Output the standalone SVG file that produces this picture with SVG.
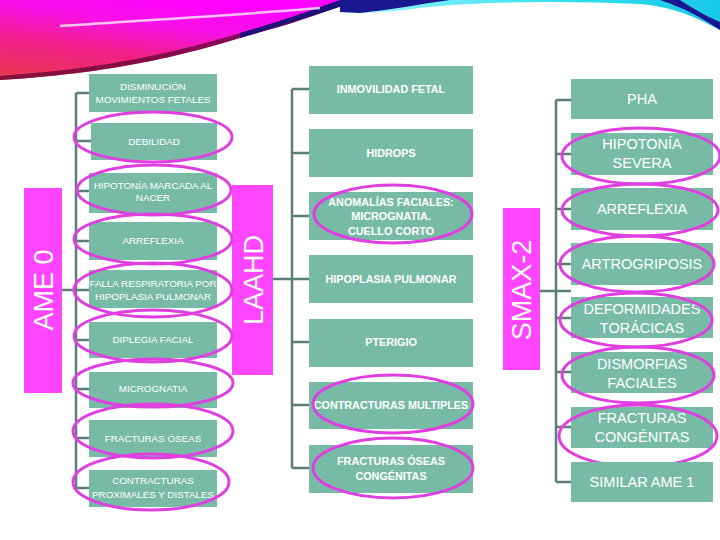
<svg xmlns="http://www.w3.org/2000/svg" width="720" height="540" viewBox="0 0 720 540">
<defs>
<linearGradient id="gL" x1="0" y1="1" x2="0.6" y2="0">
<stop offset="0" stop-color="#E8384A"/>
<stop offset="0.4" stop-color="#F0208A"/>
<stop offset="0.7" stop-color="#F810E8"/>
<stop offset="1" stop-color="#FF00FF"/>
</linearGradient>
<linearGradient id="gR" x1="0" y1="0" x2="1" y2="0">
<stop offset="0" stop-color="#9FF6FF"/>
<stop offset="0.6" stop-color="#30E0F0"/>
<stop offset="1" stop-color="#18C8E8"/>
</linearGradient>
<style>
.box{fill:#77BBA6}
.tag{fill:#FF45FF}
.ring{fill:none;stroke:#E03FE0;stroke-width:3}
.con{stroke:#5B7E79;stroke-width:2.5;fill:none}
.t1{font-family:"Liberation Sans",Arial,sans-serif;font-size:9.8px;fill:#fff;text-anchor:middle}
.t2{font-family:"Liberation Sans",Arial,sans-serif;font-size:10.8px;font-weight:bold;fill:#fff;text-anchor:middle}
.t3{font-family:"Liberation Sans",Arial,sans-serif;font-size:14.5px;fill:#fff;text-anchor:middle}
.tv{font-family:"Liberation Sans",Arial,sans-serif;font-size:27px;fill:#fff;text-anchor:middle}
</style>
</defs>
<rect width="720" height="540" fill="#fff"/>
<g id="decor">
<path d="M0,0 L362,0 C330,8 300,22 260,32 C200,50 130,72 0,80 Z" fill="url(#gL)"/>
<path d="M355,0 C330,10 300,22 260,32 C200,50 130,72 0,80 L0,76 C130,67 200,45 258,28 C295,16 325,6 345,0 Z" fill="#6A0838" opacity="0.8"/>
<path d="M240,38 C295,22 335,8 362,0 L340,0 C315,9 285,20 240,33 Z" fill="#20107A"/>
<path d="M60,26 C150,20 250,14 320,8" stroke="#fff" stroke-width="2.5" fill="none" opacity="0.75"/>
<path d="M340,0 L720,0 L720,30 C700,20 680,8 640,4 C560,0 470,2 420,8 C390,12 360,14 340,12 Z" fill="url(#gR)"/>
<path d="M340,0 L450,0 C420,4 390,10 360,13 L340,12 Z" fill="#1A1890"/>
<path d="M660,0 L680,0 C695,10 710,18 720,22 L720,30 C705,20 685,8 660,0 Z" fill="#1A1890"/>
</g>
<g id="connectors">
<path class="con" d="M76,93 V488 M76,93 H89 M76,141 H91 M76,191 H89 M76,241 H89 M62,290 H89 M76,340 H89 M76,389 H89 M76,438 H89 M76,488 H89"/>
<path class="con" d="M292,89 V468 M292,89 H309 M292,153 H309 M292,216 H309 M273,279 H309 M292,342 H309 M292,405 H309 M292,468 H309"/>
<path class="con" d="M556,100 V482 M556,100 H571 M556,154 H571 M556,209 H571 M556,264 H571 M540,291 H571 M556,318 H571 M556,372 H571 M556,427 H571 M556,482 H571"/>
</g>
<g id="ame0"><rect class="tag" x="24" y="188" width="38" height="205"/><text class="tv" transform="translate(53,290) rotate(-90)">AME 0</text></g>
<g id="laahd"><rect class="tag" x="232" y="185" width="41" height="190"/><text class="tv" transform="translate(263,280) rotate(-90)">LAAHD</text></g>
<g id="smax2"><rect class="tag" x="503" y="208" width="37" height="162"/><text class="tv" transform="translate(531,290) rotate(-90)">SMAX-2</text></g>

<g id="l1"><rect class="box" x="89" y="74" width="128" height="38"/><text class="t1" x="153" y="90">DISMINUCIÓN</text><text class="t1" x="153" y="103">MOVIMIENTOS FETALES</text></g>
<g id="l2"><rect class="box" x="91" y="123" width="126" height="37"/><text class="t1" x="154" y="145">DEBILIDAD</text><ellipse class="ring" cx="153" cy="137" rx="79" ry="25"/></g>
<g id="l3"><rect class="box" x="89" y="173" width="128" height="40"/><text class="t1" x="153" y="189">HIPOTONÍA MARCADA AL</text><text class="t1" x="153" y="201">NACER</text><ellipse class="ring" cx="154" cy="190" rx="77" ry="25"/></g>
<g id="l4"><rect class="box" x="89" y="222" width="128" height="38"/><text class="t1" x="153" y="244">ARREFLEXIA</text><ellipse class="ring" cx="153" cy="239" rx="79" ry="25"/></g>
<g id="l5"><rect class="box" x="89" y="270" width="128" height="38"/><text class="t1" x="153" y="287">FALLA RESPIRATORIA POR</text><text class="t1" x="153" y="300">HIPOPLASIA PULMONAR</text><ellipse class="ring" cx="153" cy="290" rx="79" ry="27"/></g>
<g id="l6"><rect class="box" x="89" y="322" width="128" height="36"/><text class="t1" x="153" y="343">DIPLEGIA FACIAL</text><ellipse class="ring" cx="153" cy="336" rx="79" ry="26"/></g>
<g id="l7"><rect class="box" x="89" y="372" width="128" height="36"/><text class="t1" x="153" y="392">MICROGNATIA</text><ellipse class="ring" cx="153" cy="383" rx="80" ry="24"/></g>
<g id="l8"><rect class="box" x="89" y="420" width="128" height="37"/><text class="t1" x="153" y="442">FRACTURAS ÓSEAS</text><ellipse class="ring" cx="153" cy="431" rx="80" ry="27"/></g>
<g id="l9"><rect class="box" x="89" y="470" width="128" height="37"/><text class="t1" x="153" y="484">CONTRACTURAS</text><text class="t1" x="153" y="498">PROXIMALES Y DISTALES</text><ellipse class="ring" cx="151" cy="482" rx="78" ry="28"/></g>

<g id="m1"><rect class="box" x="309" y="66" width="164" height="48"/><text class="t2" x="391" y="93">INMOVILIDAD FETAL</text></g>
<g id="m2"><rect class="box" x="309" y="129" width="164" height="48"/><text class="t2" x="391" y="157">HIDROPS</text></g>
<g id="m3"><rect class="box" x="309" y="192" width="164" height="48"/><text class="t2" x="391" y="206">ANOMALÍAS FACIALES:</text><text class="t2" x="391" y="220">MICROGNATIA.</text><text class="t2" x="391" y="235">CUELLO CORTO</text><ellipse class="ring" cx="393" cy="214" rx="79" ry="29"/></g>
<g id="m4"><rect class="box" x="309" y="255" width="164" height="48"/><text class="t2" x="391" y="283">HIPOPLASIA PULMONAR</text></g>
<g id="m5"><rect class="box" x="309" y="319" width="164" height="48"/><text class="t2" x="391" y="346">PTERIGIO</text></g>
<g id="m6"><rect class="box" x="309" y="382" width="164" height="47"/><text class="t2" x="391" y="409">CONTRACTURAS MULTIPLES</text><ellipse class="ring" cx="393" cy="404" rx="80" ry="29"/></g>
<g id="m7"><rect class="box" x="309" y="445" width="164" height="48"/><text class="t2" x="391" y="465">FRACTURAS ÓSEAS</text><text class="t2" x="391" y="480">CONGÉNITAS</text><ellipse class="ring" cx="393" cy="468" rx="80" ry="30"/></g>

<g id="r1"><rect class="box" x="571" y="79" width="142" height="40"/><text class="t3" x="642" y="104">PHA</text></g>
<g id="r2"><rect class="box" x="571" y="133" width="142" height="42"/><text class="t3" x="642" y="149">HIPOTONÍA</text><text class="t3" x="642" y="168">SEVERA</text><ellipse class="ring" cx="641" cy="156" rx="79" ry="28"/></g>
<g id="r3"><rect class="box" x="571" y="188" width="142" height="42"/><text class="t3" x="642" y="214">ARREFLEXIA</text><ellipse class="ring" cx="640" cy="210" rx="78" ry="26"/></g>
<g id="r4"><rect class="box" x="571" y="243" width="142" height="42"/><text class="t3" x="642" y="269">ARTROGRIPOSIS</text><ellipse class="ring" cx="637" cy="264" rx="77" ry="28"/></g>
<g id="r5"><rect class="box" x="571" y="297" width="142" height="41"/><text class="t3" x="642" y="314">DEFORMIDADES</text><text class="t3" x="642" y="333">TORÁCICAS</text><ellipse class="ring" cx="636" cy="320" rx="76" ry="27"/></g>
<g id="r6"><rect class="box" x="571" y="352" width="142" height="41"/><text class="t3" x="642" y="369">DISMORFIAS</text><text class="t3" x="642" y="388">FACIALES</text><ellipse class="ring" cx="638" cy="375" rx="76" ry="28"/></g>
<g id="r7"><rect class="box" x="571" y="407" width="142" height="41"/><text class="t3" x="642" y="423">FRACTURAS</text><text class="t3" x="642" y="442">CONGÉNITAS</text><ellipse class="ring" cx="638" cy="436" rx="79" ry="31"/></g>
<g id="r8"><rect class="box" x="571" y="462" width="142" height="40"/><text class="t3" x="642" y="487">SIMILAR AME 1</text></g>
</svg>
